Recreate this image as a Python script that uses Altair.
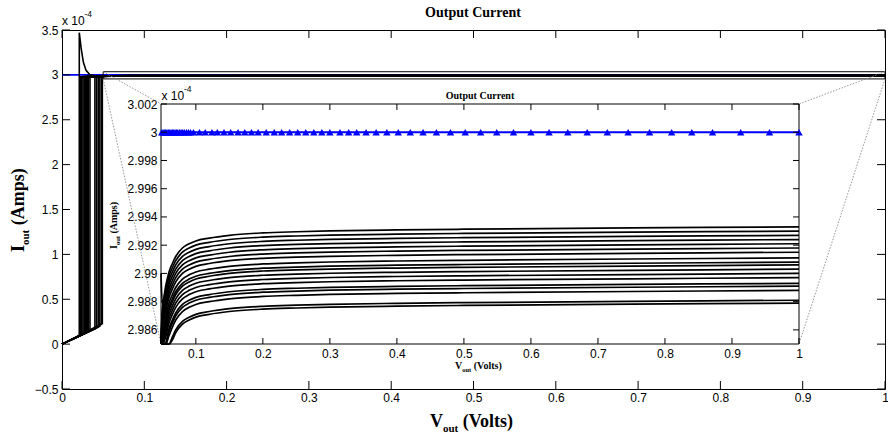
import altair as alt
import pandas as pd

# ---------------- data (current in units of 1e-4 A, voltage in V) ----------------
# end value of every swept output curve at 1 V, top to bottom
curve_end_current = [2.9933, 2.9930, 2.9927, 2.9924, 2.9921, 2.9918, 2.9915, 2.9911, 2.9908,
                     2.9906, 2.9903, 2.9900, 2.9897, 2.9893, 2.9891, 2.9888, 2.9881, 2.9879]
# voltage where each curve leaves the low branch and jumps up
jump_voltage = [0.021, 0.022, 0.023, 0.024, 0.0255, 0.027, 0.028, 0.029, 0.030,
                0.031, 0.032, 0.034, 0.040, 0.042, 0.044, 0.046, 0.048, 0.049]
# current on the low branch at the jump
jump_base_current = [0.09, 0.095, 0.10, 0.105, 0.11, 0.115, 0.12, 0.125, 0.13,
                     0.135, 0.14, 0.145, 0.17, 0.18, 0.19, 0.20, 0.22, 0.23]
# current reached right after the jump
jump_top_current = [3.47, 2.98, 2.98, 2.98, 2.98, 2.98, 2.98, 2.98, 2.98,
                    2.98, 2.98, 2.98, 2.98, 2.98, 2.98, 2.98, 2.98, 2.98]
# the first curve overshoots and decays back
overshoot_curve = 0
overshoot_voltage = [0.0235, 0.026, 0.0292, 0.034, 0.040]
overshoot_current = [3.28, 3.14, 3.05, 3.00, 2.99]
# settling part: how far below its end value a curve sits at each voltage
settle_voltage = [0.05, 0.055, 0.06, 0.065, 0.07, 0.08, 0.09, 0.10, 0.12, 0.15,
                  0.2, 0.25, 0.3, 0.4, 0.5, 0.75, 1.0]
settle_deficit = [0.0055, 0.0042, 0.0032, 0.0026, 0.0021, 0.0015, 0.0012, 0.0010, 0.0008,
                  0.0006, 0.00043, 0.00035, 0.00029, 0.00022, 0.00017, 0.00008, 0.0]

# reference current (blue) and its marker positions
ref_current = 3.0
ref_marker_voltage = [0.049, 0.051, 0.053, 0.055, 0.057, 0.059, 0.061, 0.063, 0.065, 0.067,
                      0.069, 0.071, 0.073, 0.0755, 0.078, 0.0805, 0.083, 0.086, 0.089, 0.092,
                      0.0964, 0.1054, 0.114, 0.124, 0.132, 0.142, 0.152, 0.163, 0.173, 0.183,
                      0.193, 0.205, 0.217, 0.228, 0.240, 0.252, 0.264, 0.276, 0.288, 0.300,
                      0.315, 0.328, 0.340, 0.354, 0.369, 0.385, 0.402, 0.420, 0.439, 0.459,
                      0.480, 0.502, 0.525, 0.549, 0.574, 0.600, 0.627, 0.655, 0.684, 0.714,
                      0.745, 0.777, 0.810, 0.840, 0.871, 0.913, 0.956, 1.0]

# axes
main_v_ticks = [0, 0.1, 0.2, 0.3, 0.4, 0.5, 0.6, 0.7, 0.8, 0.9, 1.0]
main_i_ticks = [-0.5, 0, 0.5, 1, 1.5, 2, 2.5, 3, 3.5]
inset_v_ticks = [0.1, 0.2, 0.3, 0.4, 0.5, 0.6, 0.7, 0.8, 0.9, 1.0]
inset_i_ticks = [2.986, 2.988, 2.99, 2.992, 2.994, 2.996, 2.998, 3.0, 3.002]
main_v_domain = [0, 1]
main_i_domain = [-0.5, 3.5]
inset_v_domain = [0.048, 1.0]
inset_i_domain = [2.985, 3.002]
# magnified window drawn on the main axes
zoom_v = [0.05, 1.0]
zoom_i = [2.955, 3.035]

# ---------------- layout ----------------
W, H = 823, 359
INSET = dict(left=99, right=737, top=74, bottom=314)
SANS = "Liberation Sans"
SERIF = "Liberation Serif"
BLUE = "#0000ff"

# ---------------- tables ----------------
rows = []
for k, (vj, ib, it, iend) in enumerate(zip(jump_voltage, jump_base_current,
                                           jump_top_current, curve_end_current)):
    pts = [(0.0, 0.0, "low"), (vj, ib, "low"), (vj, it, "top")]
    if k == overshoot_curve:
        pts += [(v, i, "over") for v, i in zip(overshoot_voltage, overshoot_current)]
    pts += [(v, iend - d, "settle") for v, d in zip(settle_voltage, settle_deficit)]
    for n, (v, i, part) in enumerate(pts):
        rows.append({"curve": k, "n": n, "v": v, "i": i, "part": part})
curves = pd.DataFrame(rows)
inset_curves = curves[(curves["v"] >= 0.04) |
                      ((curves["part"] == "top") & (curves["i"] < inset_i_domain[0]))]

ref_line = pd.DataFrame({"v": [0.0] + ref_marker_voltage})
ref_line["i"] = ref_current
ref_marks = pd.DataFrame({"v": ref_marker_voltage})
ref_marks["i"] = ref_current

# ---------------- scales and axes ----------------
main_x = alt.Scale(domain=main_v_domain, nice=False, zero=False)
main_y = alt.Scale(domain=main_i_domain, nice=False, zero=False)
ins_x = alt.Scale(domain=inset_v_domain, range=[INSET["left"], INSET["right"]],
                  clamp=True, nice=False, zero=False)
ins_y = alt.Scale(domain=inset_i_domain, range=[INSET["bottom"], INSET["top"]],
                  clamp=True, nice=False, zero=False)

label_style = dict(grid=False, ticks=False, tickSize=0, domain=False, labelFlush=False,
                   labelOverlap=False, labelFont=SANS, labelFontSize=12,
                   labelColor="black", title=None)
ax_main_x = alt.Axis(values=main_v_ticks, format=".1~f", orient="bottom", labelPadding=3, **label_style)
ax_main_y = alt.Axis(values=main_i_ticks, format=".1~f", orient="left", labelPadding=4, **label_style)
ax_ins_x = alt.Axis(values=inset_v_ticks, format=".1~f", orient="bottom", labelPadding=4,
                    offset=-(H - INSET["bottom"]), **label_style)
ax_ins_y = alt.Axis(values=inset_i_ticks, format=".3~f", orient="left", labelPadding=4,
                    offset=-INSET["left"], **label_style)


def mx(f):
    return alt.X(f, type="quantitative", scale=main_x, axis=ax_main_x)


def my(f):
    return alt.Y(f, type="quantitative", scale=main_y, axis=ax_main_y)


def ix(f):
    return alt.X(f, type="quantitative", scale=ins_x, axis=ax_ins_x)


def iy(f):
    return alt.Y(f, type="quantitative", scale=ins_y, axis=ax_ins_y)


def label(text, x, y, size, font=SANS, weight="normal", angle=0, align="left"):
    return alt.Chart(pd.DataFrame({"t": [text]})).mark_text(
        font=font, fontSize=size, fontWeight=weight, angle=angle, align=align,
        baseline="alphabetic", color="black"
    ).encode(text="t:N", x=alt.value(x), y=alt.value(y))


def subscripted(big, sub, rest, x, y, size, sub_size, drop, vertical=False):
    """Axis title such as I_out (Amps), built from three text pieces."""
    w_big = {"I": 0.389, "V": 0.722}[big] * size
    w_sub = 1.389 * sub_size + 0.25 * size
    if not vertical:
        return [label(big, x, y, size, SERIF, "bold"),
                label(sub, x + w_big, y + drop, sub_size, SERIF, "bold"),
                label(rest, x + w_big + w_sub, y, size, SERIF, "bold")]
    return [label(big, x, y, size, SERIF, "bold", angle=270),
            label(sub, x + drop, y - w_big, sub_size, SERIF, "bold", angle=270),
            label(rest, x, y - w_big - w_sub, size, SERIF, "bold", angle=270)]


# ---------------- main axes ----------------
main_layers = [
    alt.Chart(ref_line).mark_line(color=BLUE, strokeWidth=1.6).encode(x=mx("v"), y=my("i")),
    alt.Chart(curves).mark_line(color="black", strokeWidth=1.6).encode(
        x=mx("v"), y=my("i"), detail="curve:N", order=alt.Order("n:Q")),
    alt.Chart(pd.DataFrame({"v0": [zoom_v[0]], "v1": [zoom_v[1]],
                            "i0": [zoom_i[0]], "i1": [zoom_i[1]]})).mark_rect(
        fillOpacity=0, stroke="black", strokeWidth=1).encode(
        x=mx("v0"), x2=alt.X2("v1"), y=my("i0"), y2=alt.Y2("i1")),
]

# dotted connectors from the magnified window to the inset corners
links = [(zoom_v[0], zoom_i[1], INSET["left"], INSET["top"]),
         (zoom_v[0], zoom_i[0], INSET["left"], INSET["bottom"]),
         (zoom_v[1], zoom_i[1], INSET["right"], INSET["top"]),
         (zoom_v[1], zoom_i[0], INSET["right"], INSET["bottom"])]
for v, i, px, py in links:
    main_layers.append(
        alt.Chart(pd.DataFrame({"v": [v], "i": [i]})).mark_rule(
            color="#8a8a8a", strokeWidth=0.9, strokeDash=[1.5, 1.5]).encode(
            x=mx("v"), y=my("i"), x2=alt.value(px), y2=alt.value(py)))

# inward ticks on all four sides
tv = pd.DataFrame({"v": main_v_ticks})
ti = pd.DataFrame({"i": main_i_ticks})
for y0, y1 in [(H, H - 8), (0, 8)]:
    main_layers.append(alt.Chart(tv).mark_rule(color="black", strokeWidth=1).encode(
        x=mx("v"), y=alt.value(y0), y2=alt.value(y1)))
for x0, x1 in [(0, 8), (W, W - 8)]:
    main_layers.append(alt.Chart(ti).mark_rule(color="black", strokeWidth=1).encode(
        y=my("i"), x=alt.value(x0), x2=alt.value(x1)))

main_layers += [
    label("Output Current", W / 2 - 0.5, -13, 14, SERIF, "bold", align="center"),
    label("x 10", 0, -5, 12),
    label("-4", 22.5, -13, 8.5),
]
main_layers += subscripted("V", "out", "(Volts)", 368, 397, 18, 11, 5)
main_layers += subscripted("I", "out", "(Amps)", -38, 222, 18, 11, 5, vertical=True)

main = alt.layer(*main_layers)

# ---------------- inset axes ----------------
inset_layers = [
    alt.Chart(pd.DataFrame({"v0": [inset_v_domain[0]], "v1": [inset_v_domain[1]],
                            "i0": [inset_i_domain[0]], "i1": [inset_i_domain[1]]})).mark_rect(
        fill="white", stroke="black", strokeWidth=1).encode(
        x=ix("v0"), x2=alt.X2("v1"), y=iy("i0"), y2=alt.Y2("i1")),
    alt.Chart(ref_line).mark_line(color=BLUE, strokeWidth=2).encode(x=ix("v"), y=iy("i")),
    alt.Chart(ref_marks).mark_point(shape="triangle-up", filled=True, size=55, color=BLUE,
                                    opacity=1).encode(x=ix("v"), y=iy("i")),
    alt.Chart(inset_curves).mark_line(color="black", strokeWidth=1.7, interpolate="monotone").encode(
        x=ix("v"), y=iy("i"), detail="curve:N", order=alt.Order("n:Q")),
]
itv = pd.DataFrame({"v": inset_v_ticks})
iti = pd.DataFrame({"i": inset_i_ticks})
for y0, y1 in [(INSET["bottom"], INSET["bottom"] - 6), (INSET["top"], INSET["top"] + 6)]:
    inset_layers.append(alt.Chart(itv).mark_rule(color="black", strokeWidth=1).encode(
        x=ix("v"), y=alt.value(y0), y2=alt.value(y1)))
for x0, x1 in [(INSET["left"], INSET["left"] + 6), (INSET["right"], INSET["right"] - 6)]:
    inset_layers.append(alt.Chart(iti).mark_rule(color="black", strokeWidth=1).encode(
        y=iy("i"), x=alt.value(x0), x2=alt.value(x1)))

inset_layers += [
    label("Output Current", (INSET["left"] + INSET["right"]) / 2, INSET["top"] - 5, 10,
          SERIF, "bold", align="center"),
    label("x 10", INSET["left"] + 0.5, INSET["top"] - 4, 12),
    label("-4", INSET["left"] + 23, INSET["top"] - 12, 8.5),
]
inset_layers += subscripted("V", "out", "(Volts)", 393, 339, 10, 6.5, 3)
inset_layers += subscripted("I", "out", "(Amps)", 55, 219, 10, 6.5, 3, vertical=True)

inset = alt.layer(*inset_layers)

chart = alt.layer(main, inset).resolve_scale(x="independent", y="independent").properties(
    width=W, height=H,
    padding={"left": 62, "top": 30, "right": 3, "bottom": 47},
    autosize=alt.AutoSizeParams(type="none"),
    background="white",
).configure_view(stroke="black", strokeWidth=1)

chart.save("out.html", embed_options={"renderer": "svg", "actions": False})
